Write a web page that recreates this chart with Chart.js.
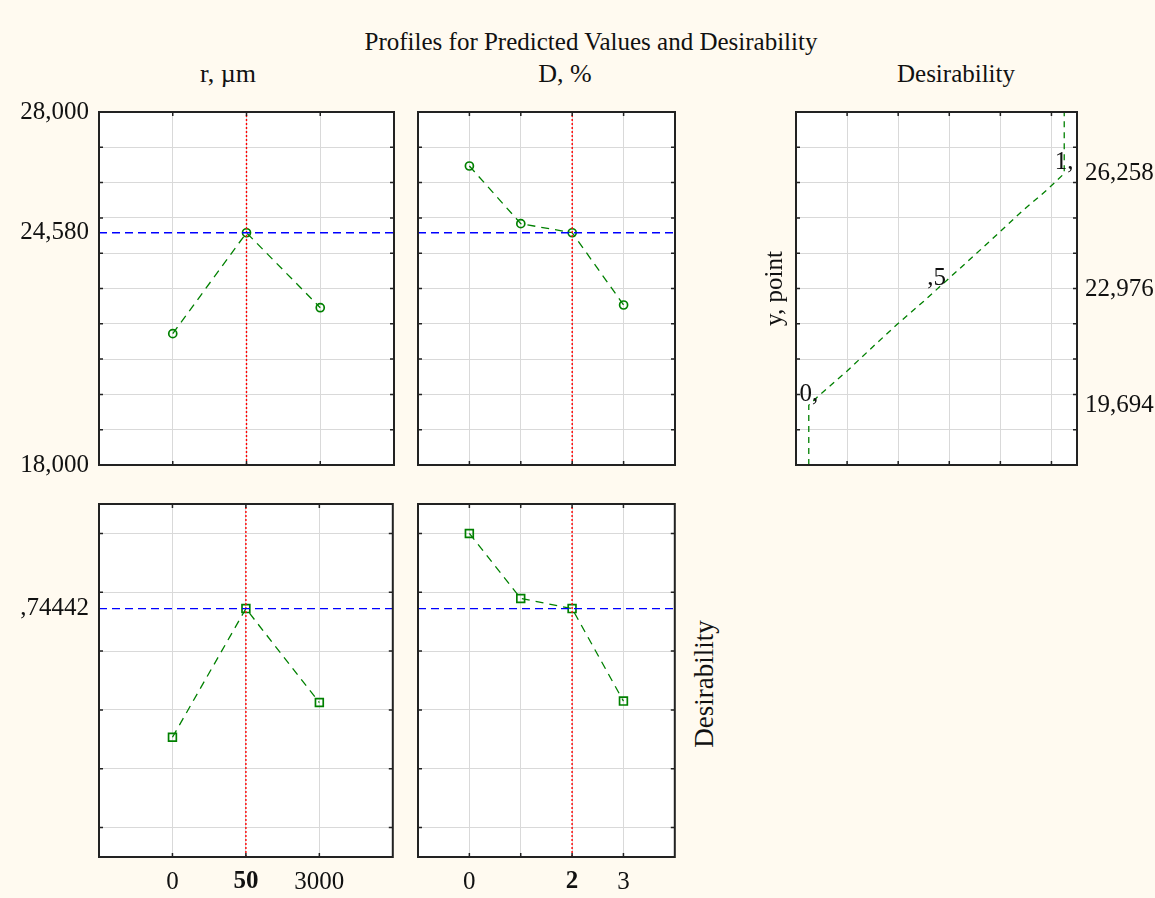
<!DOCTYPE html>
<html>
<head>
<meta charset="utf-8">
<script src="https://cdn.jsdelivr.net/npm/chart.js@4.4.0/dist/chart.umd.min.js"></script>
<style>
  body { margin: 0; background: #fffaf0; }
  #page { position: relative; width: 1155px; height: 898px; background: #fffaf0; overflow: hidden;
          font-family: 'Liberation Serif', 'Times New Roman', serif; color: #111; }
  canvas { position: absolute; }
  .label { position: absolute; white-space: nowrap; line-height: 1; transform: translate(-50%, -50%); }
</style>
</head>
<body>
<div id="page">
  <div class="label" style="left:591px;top:41px;font-size:25px">Profiles for Predicted Values and Desirability</div>
  <div class="label" style="left:228px;top:74px;font-size:26px">r, µm</div>
  <div class="label" style="left:565px;top:74px;font-size:26px">D, %</div>
  <div class="label" style="left:956px;top:73px;font-size:25px">Desirability</div>
  <div class="label" style="left:704px;top:684px;font-size:27px;transform:translate(-50%,-50%) rotate(-90deg)">Desirability</div>

  <canvas id="tl" style="left:0;top:100px" width="400" height="377"></canvas>
  <canvas id="tm" style="left:410px;top:100px" width="272" height="377"></canvas>
  <canvas id="des" style="left:760px;top:100px" width="395" height="377"></canvas>
  <canvas id="bl" style="left:0;top:492px" width="400" height="406"></canvas>
  <canvas id="bm" style="left:410px;top:492px" width="272" height="406"></canvas>
</div>
<script>
// factor levels
const rLabels = ['0', '50', '3000'];
const dLabels = ['0', '', '2', '3'];
const currentR = 1;
const currentD = 2;

// predicted y, point
const rPred = [21720, 24580, 22456];
const dPred = [26470, 24836, 24580, 22533];
const currentPred = 24580;

// desirability
const rDesir = [0.307, 0.74442, 0.425];
const dDesir = [1.0, 0.779, 0.74442, 0.430];
const currentDesir = 0.74442;

// tick labels
const predTickValues = [28000, 24580, 18000];
const predTickLabels = ['28,000', '24,580', '18,000'];
const predGrid = [18000, 19000, 20000, 21000, 22000, 23000, 24000, 25000, 26000, 27000, 28000];
const desirTickValues = [0.74442];
const desirTickLabels = [',74442'];
const desirGrid = [0, 0.2, 0.4, 0.6, 0.8, 1.0];

// desirability function panel
const levelTickValues = [26258, 22976, 19694];
const levelTickLabels = ['26,258', '22,976', '19,694'];
const levelD = [0, 0.5, 1];
const levelText = ['0,', ',5', '1,'];
const curveD = [0, 0, 0.035, 0.147, 0.251, 0.343, 0.448, 0.52, 0.657, 0.749, 0.84, 0.932, 1, 1];
const curveY = [18000, 19694, 19935, 20643, 21351, 21966, 22626, 23099, 23997, 24609, 25224, 25790, 26258, 28000];
const desGridX = [0.15, 0.35, 0.55, 0.75, 0.95];

const serif = "'Liberation Serif', 'Times New Roman', serif";
Chart.defaults.font.family = serif;
Chart.defaults.font.size = 25;
Chart.defaults.color = '#111';
const gridColor = '#d9d9d9';
const green = '#008000';

const frame = {
    id: 'frame',
    beforeDraw(chart) {
        const {ctx, chartArea: a} = chart;
        ctx.save();
        ctx.fillStyle = '#ffffff';
        ctx.fillRect(a.left, a.top, a.right - a.left, a.bottom - a.top);
        ctx.restore();
    },
    afterDraw(chart) {
        const {ctx, chartArea: a} = chart;
        const xs = chart.scales.x, ys = chart.scales.y;
        ctx.save();
        ctx.strokeStyle = '#222';
        ctx.lineWidth = 1.5;
        ctx.beginPath();
        xs.ticks.forEach(t => {
            const px = xs.getPixelForValue(t.value);
            ctx.moveTo(px, a.top); ctx.lineTo(px, a.top + 4);
            ctx.moveTo(px, a.bottom); ctx.lineTo(px, a.bottom - 4);
        });
        ys.ticks.forEach(t => {
            const py = ys.getPixelForValue(t.value);
            ctx.moveTo(a.left, py); ctx.lineTo(a.left + 4, py);
            ctx.moveTo(a.right, py); ctx.lineTo(a.right - 4, py);
        });
        ctx.stroke();
        ctx.lineWidth = 2;
        ctx.strokeRect(a.left, a.top, a.right - a.left, a.bottom - a.top);
        ctx.restore();
    }
};

function setTicks(values) {
    return s => { s.ticks = values.map(v => ({value: v})); };
}

// fixed axis size, no extra label overflow padding
function fixWidth(w) {
    return s => { s.width = w; s.paddingTop = 0; s.paddingBottom = 0; s.paddingLeft = 0; s.paddingRight = 0; };
}
function fixHeight(h) {
    return s => { s.height = h; s.paddingTop = 0; s.paddingBottom = 0; s.paddingLeft = 0; s.paddingRight = 0; };
}

function profileChart(id, o) {
    const xLast = o.labels.length;
    return new Chart(document.getElementById(id), {
        type: 'line',
        data: {
            datasets: [
                {
                    data: [{x: -1, y: o.current}, {x: xLast, y: o.current}],
                    borderColor: '#0000ff', borderWidth: 1.4, borderDash: [8, 5], pointRadius: 0
                },
                {
                    data: [{x: o.currentX, y: o.min}, {x: o.currentX, y: o.max}],
                    borderColor: '#ff0000', borderWidth: 1.4, borderDash: [2, 2], pointRadius: 0
                },
                {
                    data: o.values.map((y, i) => ({x: i, y})),
                    borderColor: green, borderWidth: 1.3, borderDash: [8, 6],
                    pointStyle: o.marker, pointRadius: o.radius, pointBorderWidth: 1.7,
                    pointBorderColor: green, pointBackgroundColor: 'rgba(0,0,0,0)'
                }
            ]
        },
        options: {
            responsive: false, animation: false, devicePixelRatio: 1,
            layout: {padding: o.padding},
            plugins: {legend: {display: false}, tooltip: {enabled: false}},
            scales: {
                x: {
                    type: 'linear', min: -1, max: xLast,
                    afterBuildTicks: setTicks(o.labels.map((_, i) => i)),
                    grid: {color: gridColor, drawTicks: false}, border: {display: false},
                    ticks: {
                        display: o.showX, padding: 10, autoSkip: false, maxRotation: 0,
                        callback: v => o.labels[v],
                        font: c => ({size: 25, weight: c.tick && c.tick.value === o.currentX ? 'bold' : 'normal'})
                    },
                    afterFit: fixHeight(o.xHeight)
                },
                y: {
                    type: 'linear', min: o.min, max: o.max,
                    afterBuildTicks: setTicks(o.grid),
                    grid: {color: gridColor, drawTicks: false}, border: {display: false},
                    ticks: {display: false},
                    afterFit: fixWidth(0)
                },
                yl: {
                    type: 'linear', position: 'left', display: o.showY, min: o.min, max: o.max,
                    afterBuildTicks: setTicks(o.tickValues),
                    grid: {display: false, drawTicks: false}, border: {display: false},
                    ticks: {padding: 10, autoSkip: false, callback: v => o.tickLabels[o.tickValues.indexOf(v)]},
                    afterFit: fixWidth(o.yWidth)
                }
            }
        },
        plugins: [frame]
    });
}

const predBase = {min: 18000, max: 28000, grid: predGrid, current: currentPred,
    tickValues: predTickValues, tickLabels: predTickLabels, marker: 'circle', radius: 4, xHeight: 0};
const desirBase = {min: -0.1, max: 1.1, grid: desirGrid, current: currentDesir,
    tickValues: desirTickValues, tickLabels: desirTickLabels, marker: 'rect', radius: 5.5, xHeight: 41};

profileChart('tl', Object.assign({}, predBase, {
    labels: rLabels, values: rPred, currentX: currentR, showX: false, showY: true, yWidth: 99,
    padding: {top: 12, bottom: 12, right: 6}
}));
profileChart('tm', Object.assign({}, predBase, {
    labels: dLabels, values: dPred, currentX: currentD, showX: false, showY: false, yWidth: 0,
    padding: {top: 12, bottom: 12, left: 8, right: 7}
}));
profileChart('bl', Object.assign({}, desirBase, {
    labels: rLabels, values: rDesir, currentX: currentR, showX: true, showY: true, yWidth: 99,
    padding: {top: 12, right: 6}
}));
profileChart('bm', Object.assign({}, desirBase, {
    labels: dLabels, values: dDesir, currentX: currentD, showX: true, showY: false, yWidth: 0,
    padding: {top: 12, left: 8, right: 7}
}));

const levelLabels = {
    id: 'levelLabels',
    afterDatasetsDraw(chart) {
        const {ctx} = chart;
        const xs = chart.scales.x, ys = chart.scales.y;
        ctx.save();
        ctx.font = '25px ' + serif;
        ctx.fillStyle = '#111';
        ctx.textAlign = 'center';
        ctx.textBaseline = 'alphabetic';
        levelText.forEach((t, i) => {
            ctx.fillText(t, xs.getPixelForValue(levelD[i]), ys.getPixelForValue(levelTickValues[2 - i]) - 4);
        });
        ctx.restore();
    }
};

new Chart(document.getElementById('des'), {
    type: 'line',
    data: {
        datasets: [{
            data: curveD.map((d, i) => ({x: d, y: curveY[i]})),
            borderColor: green, borderWidth: 1.3, borderDash: [6, 5], pointRadius: 0
        }]
    },
    options: {
        responsive: false, animation: false, devicePixelRatio: 1,
        layout: {padding: {top: 12, bottom: 12}},
        plugins: {legend: {display: false}, tooltip: {enabled: false}},
        scales: {
            x: {
                type: 'linear', min: -0.05, max: 1.05,
                afterBuildTicks: setTicks(desGridX),
                grid: {color: gridColor, drawTicks: false}, border: {display: false},
                ticks: {display: false},
                afterFit: fixHeight(0)
            },
            y: {
                type: 'linear', min: 18000, max: 28000,
                afterBuildTicks: setTicks(predGrid),
                grid: {color: gridColor, drawTicks: false}, border: {display: false},
                ticks: {display: false},
                title: {display: true, text: 'y, point', padding: 0, font: {size: 25}},
                afterFit: fixWidth(36)
            },
            yr: {
                type: 'linear', position: 'right', min: 18000, max: 28000,
                afterBuildTicks: setTicks(levelTickValues),
                grid: {display: false, drawTicks: false}, border: {display: false},
                ticks: {padding: 8, autoSkip: false, callback: v => levelTickLabels[levelTickValues.indexOf(v)]},
                afterFit: fixWidth(78)
            }
        }
    },
    plugins: [frame, levelLabels]
});
</script>
</body>
</html>
